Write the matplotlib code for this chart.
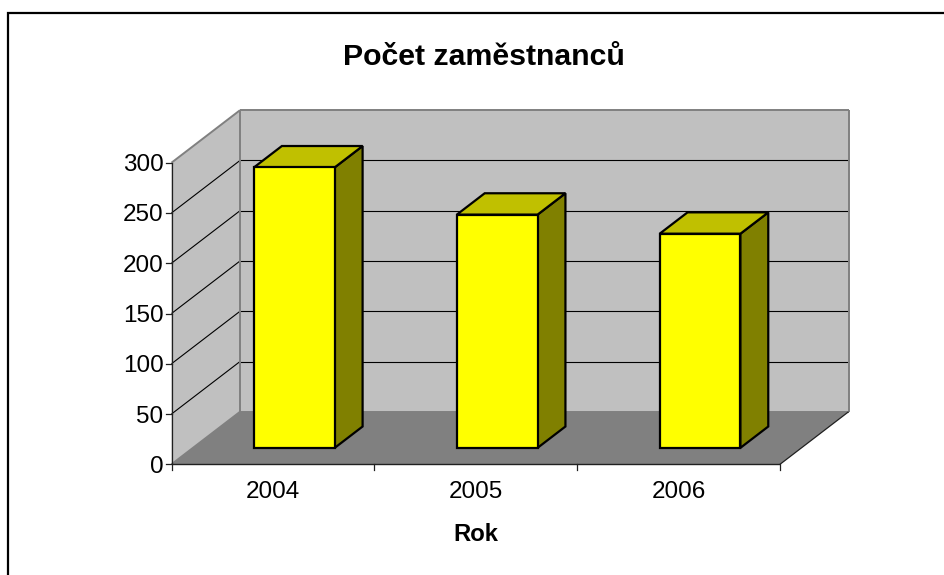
import matplotlib
matplotlib.use("Agg")
import matplotlib.pyplot as plt
from matplotlib.patches import Polygon

plt.rcParams['font.family'] = ['Liberation Sans', 'DejaVu Sans']

title = "Počet zaměstnanců"
xlabel = "Rok"
years = ["2004", "2005", "2006"]
values = [279, 232, 213]
yticks = [0, 50, 100, 150, 200, 250, 300]

W, H = 944, 575
fig = plt.figure(figsize=(W / 100, H / 100), dpi=100, facecolor="white")
L, R, B, T = 171.5, 780.0, 464.3, 162.7
ax = fig.add_axes([L / W, 1 - B / H, (R - L) / W, (B - T) / H])
ax.set_xlim(0, len(years))
ax.set_ylim(0, 300)
ax.axis("off")

DX = 68.5 / ((R - L) / 3)   # full depth in category units
DY = 52.5 / ((B - T) / 300)  # full depth in value units


def P(x, y, d=0.0):
    return (x + DX * d, y + DY * d)


def poly(pts, fc, ec="none", lw=1.0, z=1):
    ax.add_patch(Polygon(pts, closed=True, fc=fc, ec=ec, lw=lw, zorder=z,
                         clip_on=False, joinstyle="miter"))


def line(a, b, color="black", lw=1.0, z=3):
    ax.plot([a[0], b[0]], [a[1], b[1]], color=color, lw=lw, zorder=z,
            clip_on=False, solid_capstyle="butt")


n = len(years)
WALL, FLOOR, EDGE = "#C0C0C0", "#808080", "#808080"
poly([P(0, 0, 1), P(n, 0, 1), P(n, 300, 1), P(0, 300, 1)], WALL, z=1)
poly([P(0, 0), P(0, 0, 1), P(0, 300, 1), P(0, 300)], WALL, z=1)
poly([P(0, 0), P(n, 0), P(n, 0, 1), P(0, 0, 1)], FLOOR, z=2)

# gridlines
for v in yticks[1:-1]:
    line(P(0, v), P(0, v, 1), lw=0.8, z=2.4)
    line(P(0, v, 1), P(n, v, 1), lw=0.8, z=2.4)

# wall outlines
for a, b in [(P(0, 300), P(0, 300, 1)), (P(0, 300, 1), P(n, 300, 1)),
             (P(n, 300, 1), P(n, 0, 1)), (P(0, 300, 1), P(0, 0, 1)),
             (P(0, 0, 1), P(n, 0, 1)), (P(0, 0), P(0, 0, 1))]:
    line(a, b, color=EDGE, lw=1.4, z=2.5)

# axes
line(P(0, 0), P(0, 300), color="#202020", lw=0.9)
line(P(0, 0), P(n, 0), color="#202020", lw=1.0)
line(P(n, 0), P(n, 0, 1), color="#202020", lw=0.9)

px_x = (R - L) / 3
px_y = (B - T) / 300
for v in yticks:
    ax.plot([-5.5 / px_x, 0], [v, v], color="#202020", lw=0.9, clip_on=False, zorder=3)
    ax.text(-8 / px_x, v, str(v), ha="right", va="center_baseline", fontsize=17.5, color="black")
for i in range(n + 1):
    ax.plot([i, i], [0, -5.5 / px_y], color="#202020", lw=0.9, clip_on=False, zorder=3)
for i, yr in enumerate(years):
    ax.text(i + 0.5, -25 / px_y, yr, ha="center", va="center_baseline", fontsize=17.5, color="black")

# bars
BW = 0.398
D0, D1 = 0.313, 0.72
for i, v in enumerate(values):
    x0 = i + 0.5 - BW / 2
    x1 = x0 + BW
    lw = 1.6
    poly([P(x1, 0, D0), P(x1, 0, D1), P(x1, v, D1), P(x1, v, D0)], "#808000", "black", lw, 4)
    poly([P(x0, v, D0), P(x1, v, D0), P(x1, v, D1), P(x0, v, D1)], "#C0C000", "black", lw, 4)
    poly([P(x0, 0, D0), P(x1, 0, D0), P(x1, v, D0), P(x0, v, D0)], "#FFFF00", "black", lw, 5)

# chart-area frame: left and top edges
fig.add_artist(plt.Line2D([7.5 / W, 7.5 / W, 1], [0, 1 - 13 / H, 1 - 13 / H],
                          color="black", lw=1.6, solid_joinstyle="miter"))

fig.text(483.5 / W, 1 - 57 / H, title, ha="center", va="center", fontsize=21.8, fontweight="bold")
fig.text(475.5 / W, 1 - 534.5 / H, xlabel, ha="center", va="center", fontsize=17.2, fontweight="bold")

fig.savefig("out.png", dpi=100, facecolor="white")
